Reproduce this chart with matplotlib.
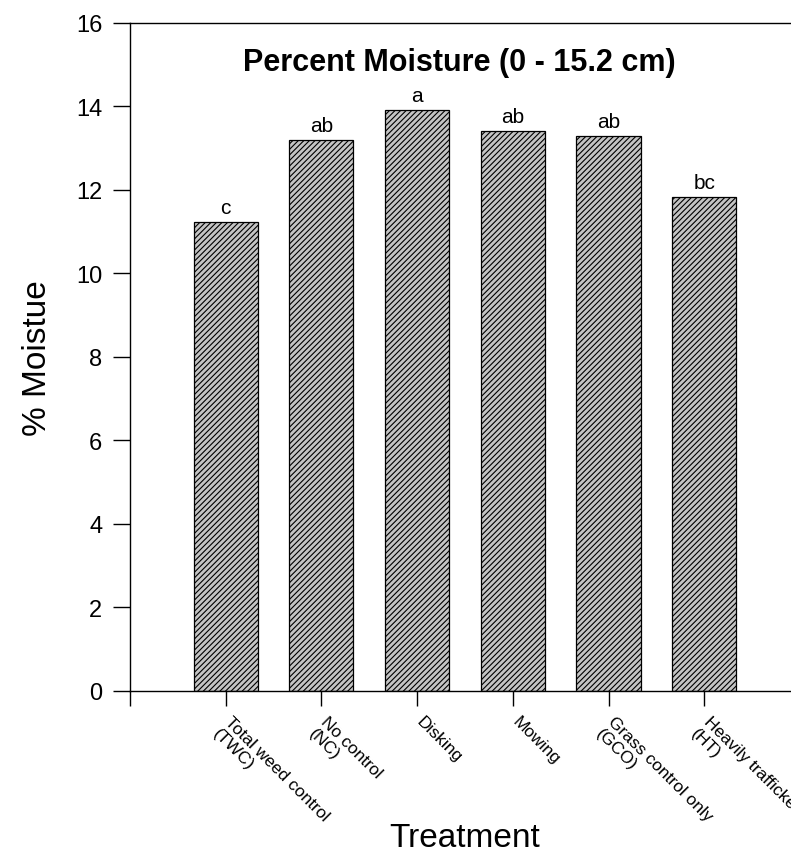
import numpy as np
import matplotlib.pyplot as plt
import matplotlib.transforms as mtransforms

plt.rcParams['font.family'] = ['Liberation Sans', 'DejaVu Sans']
plt.rcParams['hatch.color'] = '#4a4a4a'
plt.rcParams['hatch.linewidth'] = 0.8

treatments = ['Total weed control\n(TWC)', 'No control\n(NC)', 'Disking', 'Mowing',
              'Grass control only\n(GCO)', 'Heavily trafficked\n(HT)']
moisture = [11.23, 13.20, 13.92, 13.41, 13.29, 11.83]
letters = ['c', 'ab', 'a', 'ab', 'ab', 'bc']

W, H = 791, 853
fig = plt.figure(figsize=(W / 100, H / 100), dpi=100)
ax = fig.add_axes([0.1643, 0.1888, 0.847, 0.7831])

x = np.arange(1, len(moisture) + 1)
ax.bar(x, moisture, width=0.67, color='#c4c4c4', edgecolor='black',
       linewidth=0.9, hatch='//////')

for xi, val, lab in zip(x, moisture, letters):
    ax.text(xi, val + 0.12, lab, ha='center', va='bottom', fontsize=15)

ax.set_xlim(0, 7)
ax.set_ylim(0, 16)
ax.set_yticks(range(0, 17, 2))
ax.set_xticks(np.concatenate([[0], x]))
ax.set_xticklabels([''] + treatments, rotation=-45, ha='left', va='top',
                   rotation_mode='anchor', fontsize=12.5)
ax.tick_params(axis='y', direction='out', length=12, labelsize=17, width=1, pad=8)
ax.tick_params(axis='x', direction='out', length=11, width=1, pad=5)

# nudge rotated labels so the first line starts at the tick
offset = mtransforms.ScaledTranslation(7 / 100, 0, fig.dpi_scale_trans)
for lbl in ax.get_xticklabels():
    lbl.set_transform(lbl.get_transform() + offset)

fig.text(459 / W, 1 - 63 / H, 'Percent Moisture (0 - 15.2 cm)', fontsize=22,
         fontweight='bold', ha='center', va='center')
fig.text(38 / W, 1 - 358 / H, '% Moistue', fontsize=24, rotation=90,
         ha='center', va='center')
fig.text(465 / W, 1 - 839 / H, 'Treatment', fontsize=24, ha='center', va='center')

for s in ax.spines.values():
    s.set_linewidth(1)

fig.savefig('out.png', dpi=100)
